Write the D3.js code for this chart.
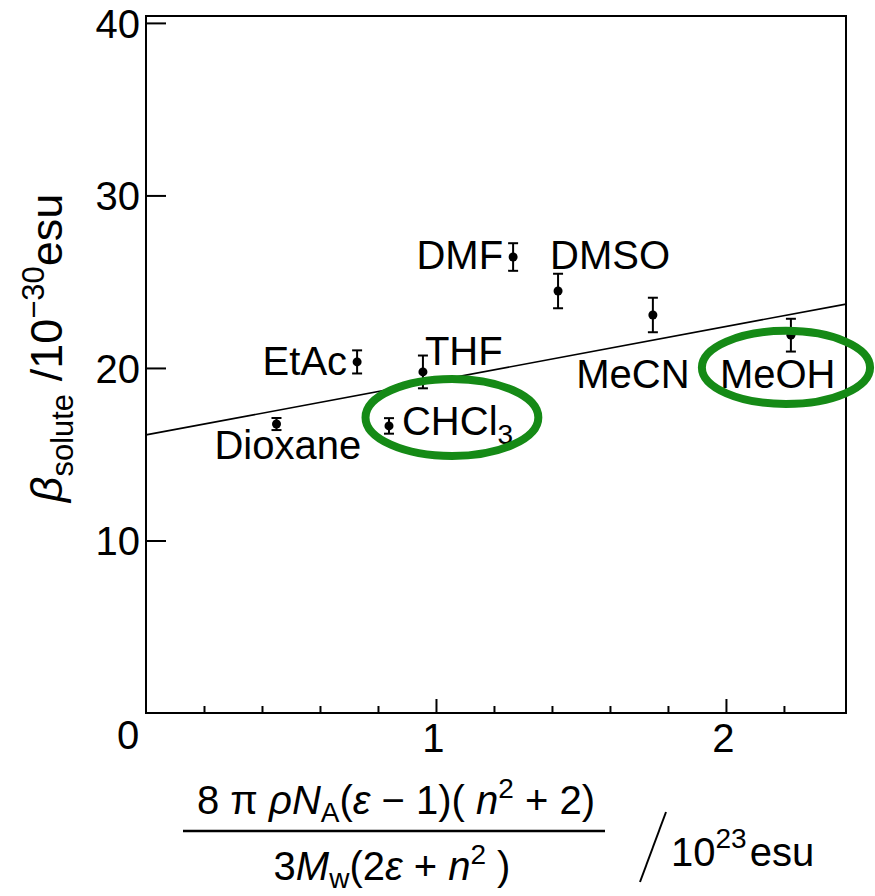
<!DOCTYPE html>
<html>
<head>
<meta charset="utf-8">
<script src="https://cdn.jsdelivr.net/npm/d3@7/dist/d3.min.js"></script>
<style>
  html, body { margin: 0; padding: 0; background: #fff; }
  svg text { font-family: "Liberation Sans", Arial, Helvetica, sans-serif; fill: #000; }
</style>
</head>
<body>
<svg id="chart" width="875" height="896"></svg>
<script>
// Solvents and measured first hyperpolarizability of the solute
const solvents = ["Dioxane", "EtAc", "CHCl3", "THF", "DMF", "DMSO", "MeCN", "MeOH"];
const polarity = [0.45, 0.728, 0.838, 0.955, 1.266, 1.421, 1.748, 2.224];   // /10^23 esu
const beta     = [16.75, 20.35, 16.64, 19.77, 26.43, 24.46, 23.07, 21.9];   // /10^-30 esu
const betaErr  = [0.35, 0.67, 0.45, 0.95, 0.8, 1.0, 1.0, 0.95];

// Linear fit: beta = intercept + slope * polarity
const fitIntercept = 16.12;
const fitSlope = 3.14;

// Axis ticks
const yTickValues = [10, 20, 30, 40];
const xMinorTicks = [0.2, 0.4, 0.6, 0.8, 1.2, 1.4, 1.6, 1.8, 2.2];
const xMajorTicks = [1, 2];

// Highlighted solvents (ellipse outlines)
const highlighted = ["CHCl3", "MeOH"];
const highlightCx = [1.055, 2.207];
const highlightCy = [17.13, 20.03];
const highlightRx = [0.298, 0.29];
const highlightRy = [2.23, 2.12];

// Label placement relative to each point: [dx, dy, anchor]
const labelPlacement = {
  Dioxane: [-62, 35, "start"],
  EtAc:    [-10, 13, "end"],
  CHCl3:   [13, 9, "start"],
  THF:     [2, -7, "start"],
  DMF:     [-10, 12, "end"],
  DMSO:    [-8, -22, "start"],
  MeCN:    [-20, 73, "middle"],
  MeOH:    [-71, 53, "start"]
};

const svg = d3.select("#chart");
const plot = { left: 146, right: 846, top: 16, bottom: 713 };

const x = d3.scaleLinear().domain([0, 2.414]).range([plot.left, plot.right]);
const y = d3.scaleLinear().domain([0, 40.4]).range([plot.bottom, plot.top]);

const FS = 40;

// Frame
svg.append("rect")
  .attr("x", plot.left).attr("y", plot.top)
  .attr("width", plot.right - plot.left).attr("height", plot.bottom - plot.top)
  .attr("fill", "none").attr("stroke", "#000").attr("stroke-width", 2);

// Y axis: inward ticks
const yAxis = svg.append("g")
  .attr("transform", `translate(${plot.left},0)`)
  .call(d3.axisLeft(y).tickValues(yTickValues).tickSize(-20).tickPadding(6).tickFormat(d3.format("d")));
yAxis.select(".domain").remove();
yAxis.selectAll(".tick line").attr("stroke", "#000").attr("stroke-width", 2);
yAxis.selectAll(".tick text").attr("font-size", FS).attr("font-family", null).attr("dy", "0.36em");

// X axis: short minor ticks and longer major ticks pointing inward
const xMinor = svg.append("g")
  .attr("transform", `translate(0,${plot.bottom})`)
  .call(d3.axisBottom(x).tickValues(xMinorTicks).tickSize(-7).tickFormat(""));
xMinor.select(".domain").remove();
xMinor.selectAll(".tick line").attr("stroke", "#000").attr("stroke-width", 2);

const xMajor = svg.append("g")
  .attr("transform", `translate(0,${plot.bottom})`)
  .call(d3.axisBottom(x).tickValues(xMajorTicks).tickSize(-14).tickPadding(8).tickFormat(d3.format("d")));
xMajor.select(".domain").remove();
xMajor.selectAll(".tick line").attr("stroke", "#000").attr("stroke-width", 2);
xMajor.selectAll(".tick text").attr("font-size", FS).attr("font-family", null)
  .attr("y", 0).attr("dy", "0").attr("transform", "translate(-3,39)");

// Shared origin label
svg.append("text").attr("x", 128).attr("y", 749)
  .attr("text-anchor", "middle").attr("font-size", FS).text("0");

// Fit line
svg.append("line")
  .attr("x1", x(0)).attr("y1", y(fitIntercept))
  .attr("x2", x(2.414)).attr("y2", y(fitIntercept + fitSlope * 2.414))
  .attr("stroke", "#000").attr("stroke-width", 1.6);

// Error bars and points
const pts = solvents.map((s, i) => ({ s, px: polarity[i], b: beta[i], e: betaErr[i] }));
const g = svg.append("g");
pts.forEach(d => {
  const cx = x(d.px);
  g.append("line").attr("x1", cx).attr("x2", cx)
    .attr("y1", y(d.b - d.e)).attr("y2", y(d.b + d.e))
    .attr("stroke", "#000").attr("stroke-width", 2);
  [d.b - d.e, d.b + d.e].forEach(v => {
    g.append("line").attr("x1", cx - 5).attr("x2", cx + 5)
      .attr("y1", y(v)).attr("y2", y(v))
      .attr("stroke", "#000").attr("stroke-width", 2);
  });
  g.append("circle").attr("cx", cx).attr("cy", y(d.b)).attr("r", 4.5).attr("fill", "#000");
});

// Solvent labels
pts.forEach(d => {
  const [dx, dy, anchor] = labelPlacement[d.s];
  const t = svg.append("text")
    .attr("x", x(d.px) + dx).attr("y", y(d.b) + dy)
    .attr("text-anchor", anchor).attr("font-size", FS);
  if (d.s === "CHCl3") {
    t.append("tspan").text("CHCl");
    t.append("tspan").attr("font-size", FS * 0.7).attr("dy", 9).text("3");
  } else {
    t.text(d.s);
  }
});

// Highlight ellipses
highlighted.forEach((s, i) => {
  const cx = x(highlightCx[i]), cy = y(highlightCy[i]);
  svg.append("ellipse")
    .attr("cx", cx).attr("cy", cy)
    .attr("rx", x(highlightRx[i]) - x(0))
    .attr("ry", y(0) - y(highlightRy[i]))
    .attr("fill", "none").attr("stroke", "#158a16").attr("stroke-width", 8);
});

// Y axis title: beta_solute /10^-30 esu
const yt = svg.append("text")
  .attr("transform", "translate(62,348) rotate(-90)")
  .attr("text-anchor", "middle").attr("font-size", 45);
yt.append("tspan").attr("font-style", "italic").text("β");
yt.append("tspan").attr("font-size", 31).attr("dy", 11).text("solute");
yt.append("tspan").attr("dy", -11).text(" /10");
yt.append("tspan").attr("font-size", 31).attr("dy", -18).text("−30");
yt.append("tspan").attr("dy", 18).text("esu");

// X axis title: fraction / 10^23 esu
const num = svg.append("text").attr("x", 396).attr("y", 814)
  .attr("text-anchor", "middle").attr("font-size", FS);
num.append("tspan").text("8 π ");
num.append("tspan").attr("font-style", "italic").text("ρN");
num.append("tspan").attr("font-size", 28).attr("dy", 8).text("A");
num.append("tspan").attr("dy", -8).text("(");
num.append("tspan").attr("font-style", "italic").text("ε");
num.append("tspan").text(" − 1)( ");
num.append("tspan").attr("font-style", "italic").text("n");
num.append("tspan").attr("font-size", 28).attr("dy", -16).text("2");
num.append("tspan").attr("dy", 16).text(" + 2)");

svg.append("line").attr("x1", 183).attr("x2", 605).attr("y1", 831).attr("y2", 831)
  .attr("stroke", "#000").attr("stroke-width", 2.5);

const den = svg.append("text").attr("x", 392).attr("y", 880)
  .attr("text-anchor", "middle").attr("font-size", FS);
den.append("tspan").text("3");
den.append("tspan").attr("font-style", "italic").text("M");
den.append("tspan").attr("font-size", 28).attr("dy", 8).text("w");
den.append("tspan").attr("dy", -8).text("(2");
den.append("tspan").attr("font-style", "italic").text("ε");
den.append("tspan").text(" + ");
den.append("tspan").attr("font-style", "italic").text("n");
den.append("tspan").attr("font-size", 28).attr("dy", -16).text("2");
den.append("tspan").attr("dy", 16).text(" )");

svg.append("line").attr("x1", 640).attr("y1", 882).attr("x2", 666).attr("y2", 812)
  .attr("stroke", "#000").attr("stroke-width", 2);

const unit = svg.append("text").attr("x", 671).attr("y", 866).attr("font-size", FS);
unit.append("tspan").text("10");
unit.append("tspan").attr("font-size", 28).attr("dy", -18).text("23");
unit.append("tspan").attr("dy", 18).attr("dx", 3).text("esu");
</script>
</body>
</html>
